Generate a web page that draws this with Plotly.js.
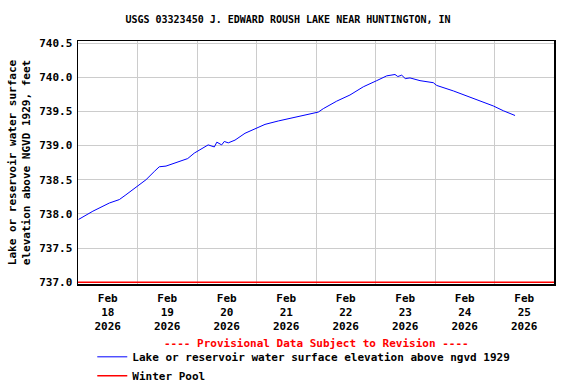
<!DOCTYPE html>
<html>
<head>
<meta charset="utf-8">
<script src="https://cdn.plot.ly/plotly-3.0.1.min.js"></script>
<style>html,body{margin:0;padding:0;background:#fff;}#chart{width:576px;height:384px;}</style>
</head>
<body>
<div id="chart"></div>
<script>
// Lake elevation readings (feet, NGVD 1929)
const times = [
  "2026-02-18 00:15","2026-02-18 06:00","2026-02-18 12:40","2026-02-18 16:40","2026-02-18 19:20",
  "2026-02-19 00:20","2026-02-19 03:25","2026-02-19 06:45","2026-02-19 08:47","2026-02-19 11:30",
  "2026-02-19 15:30","2026-02-19 20:15","2026-02-19 22:55","2026-02-20 00:55","2026-02-20 04:30",
  "2026-02-20 07:00","2026-02-20 08:00","2026-02-20 09:57","2026-02-20 11:00","2026-02-20 12:37",
  "2026-02-20 15:20","2026-02-20 19:22","2026-02-20 23:24","2026-02-21 03:26","2026-02-21 08:47",
  "2026-02-21 14:12","2026-02-21 19:34","2026-02-22 00:56","2026-02-22 02:57","2026-02-22 08:21",
  "2026-02-22 13:42","2026-02-22 19:05","2026-02-23 00:29","2026-02-23 04:31","2026-02-23 07:52",
  "2026-02-23 09:00","2026-02-23 10:34","2026-02-23 12:00","2026-02-23 13:55","2026-02-23 17:57",
  "2026-02-23 23:19","2026-02-24 00:41","2026-02-24 07:23","2026-02-24 12:47","2026-02-24 18:09",
  "2026-02-24 23:31","2026-02-25 03:33","2026-02-25 08:17"
];
const elevation = [
  737.92, 738.04, 738.16, 738.21, 738.28,
  738.42, 738.50, 738.62, 738.69, 738.70,
  738.75, 738.81, 738.89, 738.93, 739.01,
  738.98, 739.05, 739.01, 739.06, 739.04,
  739.08, 739.18, 739.25, 739.31, 739.36,
  739.40, 739.44, 739.49, 739.54, 739.65,
  739.74, 739.86, 739.95, 740.02, 740.04,
  740.01, 740.03, 739.98, 739.99, 739.95,
  739.92, 739.88, 739.80, 739.73, 739.65,
  739.58, 739.51, 739.44
];
const poolTimes = ["2026-02-18 00:00", "2026-02-26 00:00"];
const winterPool = [737.0, 737.0];
const tickDates = ["2026-02-18 12:00","2026-02-19 12:00","2026-02-20 12:00","2026-02-21 12:00",
                   "2026-02-22 12:00","2026-02-23 12:00","2026-02-24 12:00","2026-02-25 12:00"];
const tickLabels = ["Feb<br>18<br>2026","Feb<br>19<br>2026","Feb<br>20<br>2026","Feb<br>21<br>2026",
                    "Feb<br>22<br>2026","Feb<br>23<br>2026","Feb<br>24<br>2026","Feb<br>25<br>2026"];
const yTicks = [737.0, 737.5, 738.0, 738.5, 739.0, 739.5, 740.0, 740.5];

const FONT = "DejaVu Sans Mono, monospace";
const traces = [
  {x: times, y: elevation, type: "scatter", mode: "lines",
   name: "Lake or reservoir water surface elevation above ngvd 1929",
   line: {color: "#0000ff", width: 1}},
  {x: poolTimes, y: winterPool, type: "scatter", mode: "lines",
   name: "Winter Pool", line: {color: "#ff0000", width: 1.5}}
];
const layout = {
  width: 576, height: 384,
  margin: {l: 78, r: 22, t: 41, b: 100, autoexpand: false},
  paper_bgcolor: "#fff", plot_bgcolor: "#fff",
  font: {family: FONT, size: 11, color: "#000", weight: "bold"},
  title: {text: "USGS 03323450 J. EDWARD ROUSH LAKE NEAR HUNTINGTON, IN",
          font: {family: FONT, size: 10, color: "#000", weight: "bold"},
          x: 0.5, xanchor: "center", y: 0.95, yanchor: "middle"},
  xaxis: {
    type: "date", range: ["2026-02-18 00:00", "2026-02-26 00:00"],
    tickmode: "array", tickvals: tickDates, ticktext: tickLabels,
    showgrid: false, ticks: "", zeroline: false, ticklabelstandoff: 3,
    showline: true, linecolor: "#000", linewidth: 1.5, mirror: true,
    tickfont: {family: FONT, size: 11, color: "#000", weight: "bold"},
    minor: {tickmode: "linear", tick0: "2026-02-18", dtick: 86400000, showgrid: true,
            gridcolor: "#cccccc", gridwidth: 1, ticks: ""}
  },
  yaxis: {
    range: [736.975, 740.53],
    tickmode: "array", tickvals: yTicks, tickformat: ".1f",
    showgrid: true, gridcolor: "#cccccc", gridwidth: 1, ticks: "", zeroline: false,
    showline: true, linecolor: "#000", linewidth: 1.5, mirror: true,
    ticklabelstandoff: 2,
    tickfont: {family: FONT, size: 11, color: "#000", weight: "bold"},
    title: {text: "Lake or reservoir water surface<br>elevation above NGVD 1929, feet",
            font: {family: FONT, size: 11, color: "#000", weight: "bold"}, standoff: 6}
  },
  showlegend: true,
  legend: {x: 0.03, xanchor: "left", y: -0.24, yanchor: "top",
           orientation: "v", bgcolor: "rgba(0,0,0,0)", itemwidth: 30,
           font: {family: FONT, size: 11, color: "#000", weight: "bold"}, tracegroupgap: 0},
  annotations: [
    {text: "---- Provisional Data Subject to Revision ----", xref: "paper", yref: "paper",
     x: 0.5, y: -0.243, xanchor: "center", yanchor: "middle", showarrow: false,
     font: {family: FONT, size: 11, color: "#ff0000", weight: "bold"}}
  ]
};
Plotly.newPlot("chart", traces, layout, {displayModeBar: false, staticPlot: true});
</script>
</body>
</html>
